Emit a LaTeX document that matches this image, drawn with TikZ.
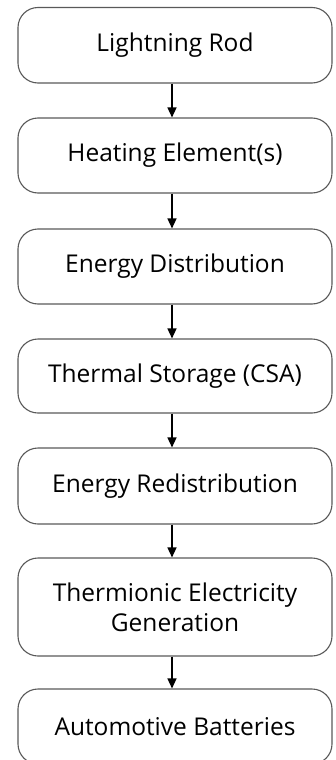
\documentclass[tikz,border=0pt]{standalone}
\usepackage{fontspec}
\setmainfont{Open Sans}
\usetikzlibrary{arrows.meta}
\begin{document}
\begin{tikzpicture}[x=1pt,y=-1pt,
  stage/.style={draw=black!65, line width=1.1pt, rounded corners=20pt,
    minimum width=314pt, inner sep=0pt, align=center,
    font=\fontsize{24.5}{30}\selectfont, text=black},
  flow/.style={line width=1.4pt, -{Triangle[width=9pt,length=10pt]}}]
\useasboundingbox (0,0) rectangle (336,760);
\node[stage, minimum height=75.5pt] (s1) at (175,45.25) {Lightning Rod};
\node[stage, minimum height=75pt]   (s2) at (175,155.5) {Heating Element(s)};
\node[stage, minimum height=75pt]   (s3) at (175,266.5) {Energy Distribution};
\node[stage, minimum height=74pt]   (s4) at (175,376) {Thermal Storage (CSA)};
\node[stage, minimum height=76pt]   (s5) at (175,486) {Energy Redistribution};
\node[stage, minimum height=98pt]   (s6) at (175,607) {Thermionic Electricity\\Generation};
\node[stage, minimum height=75pt]   (s7) at (175,726.5) {Automotive Batteries};
\foreach \a/\b in {s1/s2,s2/s3,s3/s4,s4/s5,s5/s6,s6/s7}
  \draw[flow] ([xshift=-3pt]\a.south) -- ([xshift=-3pt]\b.north);
\end{tikzpicture}
\end{document}
